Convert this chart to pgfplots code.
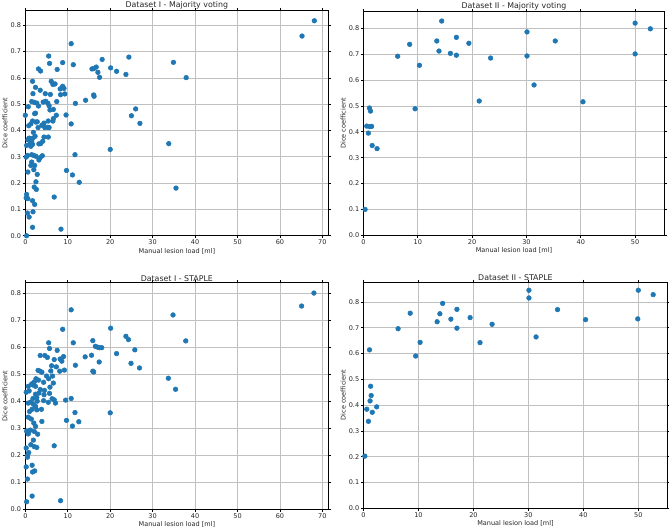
\documentclass[border=0pt]{standalone}
\usepackage{pgfplots}
\pgfplotsset{compat=1.18}
\usepackage{fontspec}
\setmainfont{DejaVu Sans}
\definecolor{mplblue}{HTML}{1F77B4}
\definecolor{gridgray}{RGB}{192,192,192}
\pgfplotsset{
  panel/.style={
    scale only axis,
    anchor=south west,
    xmin=0, ymin=0,
    grid=major,
    major grid style={gridgray, line width=0.5pt},
    axis line style={black, line width=0.55pt},
    tick align=outside,
    major tick length=1.8pt,
    tick style={black, line width=0.5pt},
    xtick={0,10,20,30,40,50,60,70},
    ytick={0,0.1,0.2,0.3,0.4,0.5,0.6,0.7,0.8},
    yticklabel style={/pgf/number format/fixed, /pgf/number format/fixed zerofill, /pgf/number format/precision=1},
    /pgf/number format/assume math mode=true,
    ticklabel style={font=\fontsize{4.9pt}{5.5pt}\selectfont, color=black!85, inner sep=1.2pt},
    label style={font=\fontsize{4.9pt}{5.5pt}\selectfont, color=black!85},
    every axis title/.style={font=\fontsize{5.9pt}{6.5pt}\selectfont, color=black!85, inner sep=0.8pt, at={(0.5,1)}, anchor=south},
    xlabel={Manual lesion load [ml]},
    ylabel={Dice coefficient},
    xlabel style={inner sep=1pt},
    ylabel style={inner sep=1pt},
    clip=false,
  },
  pts/.style={only marks, mark=*, mark size=1.75pt, mark options={draw=mplblue, fill=mplblue}},
}
\begin{document}
\begin{tikzpicture}
\path[use as bounding box] (0,0) rectangle (501.75pt,397.5pt);
% ---------------- Top left
\begin{axis}[panel, at={(19pt,220.7pt)}, width=227.25pt, height=169.3pt,
  xmax=71.4, ymax=0.858, title={Dataset I - Majority voting}]
\addplot[pts] coordinates {
(68.1,0.817) (65.2,0.759) (10.8,0.730) (5.5,0.683) (24.4,0.679) (18.1,0.670)
(5.7,0.655) (8.8,0.658) (34.9,0.659) (11.3,0.650) (3.1,0.634) (3.6,0.626)
(7.5,0.632) (20.1,0.638) (21.5,0.625) (23.7,0.613) (15.7,0.634) (16.1,0.635)
(16.7,0.641) (17.1,0.621) (17.5,0.602) (37.9,0.601) (1.7,0.587) (6.1,0.587)
(6.5,0.575) (7.0,0.577) (2.4,0.564) (3.5,0.553) (8.8,0.568) (9.1,0.560)
(8.2,0.558) (8.3,0.536) (9.3,0.539) (1.8,0.540) (4.7,0.540) (5.9,0.537)
(16.1,0.535) (16.2,0.530) (14.2,0.515) (11.8,0.503) (7.4,0.510) (1.5,0.510)
(2.1,0.507) (2.7,0.504) (3.1,0.493) (4.2,0.508) (4.8,0.511) (5.3,0.504)
(5.6,0.494) (0.7,0.490) (5.8,0.478) (6.6,0.480) (26.0,0.482) (2.4,0.466)
(2.2,0.464) (25.0,0.456) (0.0,0.458) (9.6,0.459) (7.3,0.458) (6.6,0.445)
(6.5,0.436) (5.4,0.436) (1.7,0.436) (2.5,0.432) (2.8,0.433) (1.3,0.425)
(0.8,0.418) (10.8,0.425) (27.0,0.427) (4.4,0.428) (3.9,0.420) (3.0,0.411)
(4.6,0.411) (5.3,0.412) (5.6,0.411) (1.9,0.393) (2.3,0.378) (1.8,0.371)
(4.4,0.375) (5.4,0.375) (0.9,0.371) (0.6,0.365) (4.1,0.359) (3.6,0.350)
(3.2,0.349) (1.1,0.350) (1.5,0.356) (1.7,0.347) (1.3,0.340) (0.3,0.343)
(33.8,0.350) (20.0,0.328) (0.5,0.305) (1.5,0.308) (2.0,0.305) (2.5,0.302)
(4.0,0.304) (3.5,0.297) (11.7,0.308) (0.2,0.299) (3.2,0.288) (1.5,0.280)
(1.3,0.267) (2.2,0.267) (2.0,0.251) (0.6,0.242) (2.8,0.233) (9.7,0.248)
(11.1,0.231) (12.7,0.203) (2.5,0.205) (2.1,0.185) (2.6,0.176) (35.5,0.181)
(0.3,0.157) (0.2,0.144) (0.6,0.141) (6.8,0.147) (1.7,0.133) (2.2,0.119)
(0.5,0.086) (1.8,0.091) (0.9,0.071) (1.7,0.032) (8.4,0.025) (0.3,0.0)
};
\end{axis}
% ---------------- Top right
\begin{axis}[panel, at={(272.6pt,221.0pt)}, width=225.75pt, height=167.7pt,
  xmax=55.4, ymax=0.864, title={Dataset II - Majority voting}]
\addplot[pts] coordinates {
(0.3,0.100) (0.6,0.422) (1.2,0.420) (1.5,0.421) (0.9,0.395) (1.1,0.492)
(1.3,0.480) (1.6,0.347) (2.5,0.335) (6.3,0.692) (8.5,0.738) (9.5,0.489)
(10.3,0.657) (13.5,0.751) (13.9,0.712) (14.4,0.828) (16.0,0.703) (17.1,0.765)
(17.1,0.696) (19.4,0.742) (21.3,0.519) (23.4,0.685) (30.1,0.786) (30.1,0.693)
(31.4,0.581) (35.3,0.751) (40.4,0.516) (50.0,0.820) (50.0,0.701) (52.8,0.798)
};
\end{axis}
% ---------------- Bottom left
\begin{axis}[panel, at={(19pt,15.5pt)}, width=227.25pt, height=170.1pt,
  xmax=71.4, ymax=0.839, title={Dataset I - STAPLE}]
\addplot[pts] coordinates {
(68.0,0.800) (65.1,0.752) (10.8,0.738) (34.8,0.719) (20.1,0.670) (8.8,0.666)
(23.7,0.640) (24.3,0.628) (15.9,0.624) (37.8,0.623) (5.5,0.616) (11.3,0.616)
(16.5,0.603) (17.0,0.600) (17.4,0.598) (18.0,0.598) (5.7,0.595) (25.8,0.590)
(7.5,0.588) (21.5,0.576) (15.6,0.570) (3.5,0.569) (4.6,0.569) (5.2,0.562)
(9.0,0.565) (14.1,0.564) (6.8,0.554) (8.2,0.556) (8.6,0.548) (17.4,0.545)
(24.9,0.540) (6.2,0.531) (11.8,0.533) (7.3,0.527) (26.9,0.523) (9.2,0.515)
(6.0,0.512) (3.0,0.514) (3.5,0.511) (3.9,0.507) (8.1,0.511) (15.9,0.511)
(16.1,0.508) (5.0,0.493) (6.4,0.493) (5.5,0.483) (33.7,0.485) (2.5,0.483)
(3.1,0.478) (2.1,0.471) (4.3,0.470) (6.6,0.467) (1.5,0.464) (1.8,0.460)
(5.8,0.452) (0.7,0.455) (2.4,0.455) (35.4,0.444) (0.2,0.433) (0.9,0.438)
(3.5,0.443) (4.5,0.440) (3.2,0.430) (2.4,0.426) (4.4,0.424) (5.7,0.429)
(1.8,0.410) (2.7,0.414) (0.7,0.393) (1.3,0.397) (2.8,0.400) (4.3,0.402)
(5.4,0.396) (6.3,0.409) (6.8,0.405) (7.1,0.393) (9.5,0.404) (10.8,0.410)
(1.9,0.389) (2.4,0.381) (1.6,0.370) (3.8,0.370) (2.7,0.368) (1.0,0.362)
(11.7,0.358) (20.0,0.357) (0.7,0.341) (1.4,0.334) (3.9,0.325) (9.7,0.329)
(12.6,0.324) (2.0,0.319) (2.4,0.307) (11.1,0.308) (0.3,0.289) (0.9,0.290)
(1.2,0.293) (2.1,0.288) (0.7,0.279) (2.9,0.278) (1.9,0.256) (1.3,0.239)
(2.1,0.232) (2.7,0.229) (6.8,0.235) (0.2,0.227) (0.8,0.210) (0.5,0.199)
(0.5,0.193) (1.6,0.163) (1.7,0.138) (2.2,0.142) (0.2,0.157) (0.5,0.112)
(1.6,0.049) (8.3,0.032) (0.3,0.028)
};
\end{axis}
% ---------------- Bottom right
\begin{axis}[panel, at={(272.6pt,16.3pt)}, width=228pt, height=169.7pt,
  xmax=55.3, ymax=0.877, title={Dataset II - STAPLE}]
\addplot[pts] coordinates {
(0.24,0.202) (0.6,0.384) (0.9,0.337) (1.1,0.614) (1.2,0.416) (1.3,0.473)
(1.4,0.437) (1.6,0.372) (2.4,0.393) (6.3,0.696) (8.5,0.756) (9.5,0.590)
(10.3,0.643) (13.4,0.723) (13.9,0.754) (14.4,0.794) (15.9,0.733) (17.0,0.771)
(17.0,0.698) (19.4,0.739) (21.2,0.642) (23.4,0.713) (30.1,0.845) (30.1,0.815)
(31.4,0.664) (35.3,0.770) (40.4,0.731) (50.0,0.845) (49.9,0.734) (52.7,0.828)
};
\end{axis}
\end{tikzpicture}
\end{document}
